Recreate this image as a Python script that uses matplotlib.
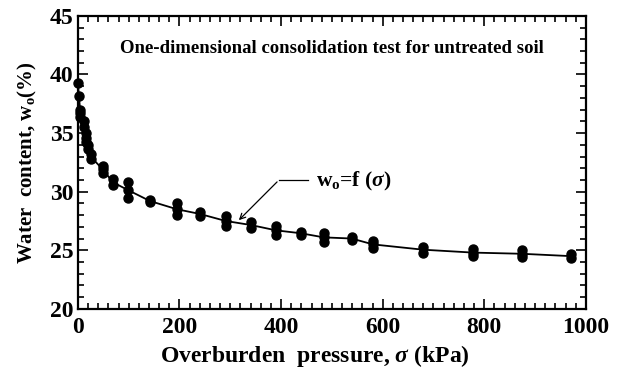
import matplotlib
matplotlib.use("Agg")
import matplotlib.pyplot as plt
import numpy as np
from matplotlib.ticker import MultipleLocator

plt.rcParams['font.family'] = ['Liberation Serif', 'DejaVu Serif']
plt.rcParams['font.weight'] = 'bold'
plt.rcParams['mathtext.fontset'] = 'custom'
plt.rcParams['mathtext.rm'] = 'Liberation Serif:bold'
plt.rcParams['mathtext.bf'] = 'Liberation Serif:bold'
plt.rcParams['mathtext.it'] = 'Liberation Serif:italic:bold'

# overburden pressure (kPa) and the water contents measured at each step (%)
pressures = [0, 2, 5, 12, 16, 20, 25, 49, 69, 98, 142, 195, 240, 291, 341,
             390, 439, 484, 539, 581, 679, 778, 874, 970]
readings = [
    [39.3],
    [38.2],
    [37.0, 36.7, 36.4],
    [36.0, 35.5],
    [35.0, 34.6, 34.2],
    [34.0, 33.6],
    [33.2, 32.8],
    [32.2, 31.9, 31.6],
    [31.05, 30.55],
    [30.8, 30.15, 29.5],
    [29.3, 29.1],
    [29.0, 28.5, 28.0],
    [28.3, 27.9],
    [27.9, 27.5, 27.1],
    [27.4, 26.9],
    [27.1, 26.7, 26.3],
    [26.6, 26.3],
    [26.5, 26.1, 25.7],
    [26.1, 25.9],
    [25.8, 25.5, 25.2],
    [25.3, 24.8],
    [25.1, 24.8, 24.5],
    [25.0, 24.7, 24.4],
    [24.7, 24.3],
]

x_pts = np.concatenate([[p] * len(r) for p, r in zip(pressures, readings)])
y_pts = np.concatenate(readings)
w_mean = [np.mean(r) for r in readings]

fig = plt.figure(figsize=(6.18, 3.69), dpi=100)
ax = fig.add_axes([0.126, 0.163, 0.822, 0.794])

ax.plot(pressures, w_mean, color='black', lw=1.3, zorder=2, clip_on=False)
ax.plot(x_pts, y_pts, 'o', color='black', ms=6.5, zorder=3, clip_on=False)

ax.set_xlim(0, 1000)
ax.set_ylim(20, 45)
ax.xaxis.set_major_locator(MultipleLocator(200))
ax.xaxis.set_minor_locator(MultipleLocator(20))
ax.yaxis.set_major_locator(MultipleLocator(5))
ax.yaxis.set_minor_locator(MultipleLocator(1))
ax.tick_params(which='both', direction='in', top=True, right=True,
               width=1.2, labelsize=17)
ax.tick_params(which='major', length=7)
ax.tick_params(which='minor', length=4)
ax.tick_params(axis='x', pad=6)
ax.tick_params(axis='y', pad=3)
for s in ax.spines.values():
    s.set_linewidth(1.6)

ax.set_xlabel(r'Overburden  pressure, $\sigma$ (kPa)', fontsize=17,
              fontweight='bold')
ax.xaxis.set_label_coords(0.467, -0.118)
ax.set_ylabel(r'Water  content, w$_{\mathrm{o}}$(%)', fontsize=15,
              fontweight='bold', labelpad=8)

ax.text(500, 42.2, 'One-dimensional consolidation test for untreated soil',
        ha='center', va='center', fontsize=13.5, fontweight='bold')

# label for the fitted curve with a leader line
ax.plot([396, 453], [31.0, 31.0], color='black', lw=0.9)
ax.annotate('', xy=(313, 27.4), xytext=(396, 31.0),
            arrowprops=dict(arrowstyle='->', color='black', lw=0.9))
ax.text(468, 30.9, r'w$_{\mathrm{o}}$=f ($\sigma$)', ha='left', va='center',
        fontsize=15.5, fontweight='bold')

fig.savefig('out.png', dpi=100)
